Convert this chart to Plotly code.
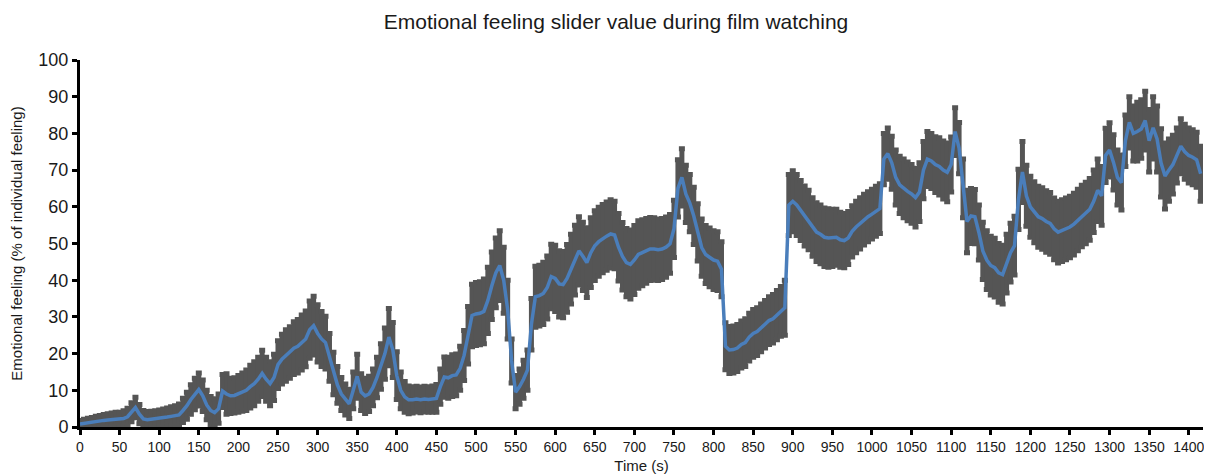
import plotly.graph_objects as go

# Time (s), sampled every 5 s
time_s = list(range(0, 1420, 5))

# Mean emotional feeling (% of individual feeling)
mean_feeling = [
    0.8, 1.0, 1.2, 1.3, 1.5, 1.6, 1.8, 1.9, 2.0, 2.1,
    2.0, 2.3, 2.8, 4.0, 5.3, 3.5, 2.2, 2.0, 2.1, 2.2,
    2.3, 2.5, 2.7, 2.9, 3.0, 3.3, 4.5, 5.8, 7.5, 9.0,
    10.2, 8.5, 6.0, 4.5, 3.9, 5.0, 9.8, 9.0, 8.5, 8.6,
    9.0, 9.5, 10.0, 11.0, 11.8, 13.0, 14.6, 13.0, 11.8, 13.5,
    17.0, 18.5, 19.5, 20.3, 21.5, 22.0, 23.0, 24.0, 26.5, 27.6,
    25.5, 24.0, 23.0, 19.0, 14.6, 11.5, 9.0, 7.5, 6.3, 10.0,
    13.8, 9.5, 8.5, 9.0, 10.8, 13.5, 16.5, 20.0, 24.5, 21.0,
    14.0, 10.0, 8.2, 7.4, 7.4, 7.6, 7.4, 7.6, 7.5, 7.6,
    7.8, 11.0, 13.6, 13.4, 14.0, 14.2, 16.0, 19.5, 25.0, 30.4,
    30.8, 31.0, 31.5, 34.5, 38.5, 42.0, 44.0, 40.0, 32.0, 18.0,
    9.5, 11.0, 13.0, 15.5, 28.0, 35.5, 35.8, 36.4, 38.0, 41.0,
    40.5, 39.0, 38.8, 40.5, 43.0, 45.5, 48.0, 46.5, 44.8, 47.5,
    49.4, 50.5, 51.3, 52.0, 52.6, 52.3, 49.0, 46.5, 44.8, 44.3,
    45.5, 47.0, 47.5, 48.0, 48.5, 48.5, 48.3, 48.5, 49.0, 49.9,
    54.0, 65.0, 68.0, 63.5, 61.0, 57.5, 53.0, 48.9, 47.0, 46.2,
    45.5, 45.2, 43.0, 22.0, 21.0, 21.1, 21.5, 22.5, 23.0, 24.5,
    25.5, 26.0, 27.0, 28.0, 29.0, 29.5, 30.5, 31.5, 32.5, 60.5,
    61.5, 60.5, 59.0, 57.5, 56.4, 54.5, 53.1, 52.5, 51.7, 51.5,
    51.5, 51.7, 51.0, 50.8, 51.5, 53.3, 54.5, 55.5, 56.5, 57.3,
    58.0, 58.8, 59.5, 73.0, 74.5, 72.0, 68.0, 66.0, 65.0, 64.2,
    63.5, 62.5, 64.0, 70.0, 73.0, 72.5, 71.5, 71.0, 70.0, 69.4,
    71.5, 80.5, 76.0, 65.0, 56.0, 57.5, 57.3, 53.0, 48.0, 45.5,
    44.0, 43.4, 42.0, 41.5, 44.5, 47.5, 49.4, 62.0, 69.5, 63.0,
    60.0, 58.5, 57.3, 56.8, 56.0, 55.5, 54.0, 53.1, 53.5, 54.0,
    54.5, 55.3, 56.4, 57.5, 58.3, 59.3, 61.5, 64.5, 63.0, 74.0,
    75.5, 72.1, 68.0, 66.6, 78.0, 83.0, 80.0, 80.5, 81.2, 83.5,
    78.0, 81.5, 78.5, 72.0, 68.4, 70.0, 71.5, 74.0, 76.5, 75.0,
    74.0, 73.5, 72.8, 69.0,
]

# Error bar half-width (same units)
error_feeling = [
    1.0, 1.1, 1.2, 1.3, 1.4, 1.5, 1.6, 1.7, 1.8, 1.9,
    2.0, 2.1, 2.3, 2.6, 2.8, 2.6, 2.3, 2.2, 2.2, 2.2,
    2.3, 2.4, 2.5, 2.6, 2.8, 3.0, 3.3, 3.7, 4.0, 4.3,
    4.5, 4.3, 4.0, 3.8, 3.8, 4.0, 4.5, 5.5, 4.8, 4.8,
    5.0, 5.2, 5.5, 5.8, 6.0, 6.0, 6.3, 6.0, 6.0, 6.3,
    6.5, 6.8, 7.0, 7.0, 7.2, 7.3, 7.5, 7.6, 7.8, 8.0,
    7.8, 7.5, 7.2, 6.5, 5.8, 5.0, 4.5, 4.2, 4.0, 5.0,
    6.0, 5.0, 4.8, 4.8, 5.0, 5.5, 6.2, 7.0, 7.8, 7.5,
    6.5, 5.0, 4.2, 3.8, 3.6, 3.5, 3.5, 3.5, 3.5, 3.6,
    3.8, 4.8, 5.5, 5.6, 5.7, 5.7, 6.0, 6.8, 7.8, 8.5,
    8.6, 8.6, 8.8, 9.0, 9.2, 9.5, 9.5, 9.0, 8.0, 6.0,
    4.5, 4.8, 5.2, 5.5, 7.0, 8.3, 8.3, 8.5, 8.6, 8.8,
    9.0, 9.0, 9.0, 9.2, 9.5, 9.5, 9.3, 9.3, 9.5, 9.5,
    9.5, 9.4, 9.3, 9.3, 9.3, 9.2, 9.2, 9.2, 9.3, 9.4,
    9.4, 9.2, 9.0, 8.8, 8.6, 8.5, 8.4, 8.3, 8.2, 8.0,
    7.8, 7.8, 7.8, 7.8, 7.8, 7.8, 7.8, 7.8, 7.9, 8.0,
    8.0, 8.0, 7.5, 6.4, 6.4, 6.4, 6.4, 6.4, 6.5, 6.5,
    6.5, 6.5, 6.5, 6.5, 6.5, 6.6, 6.7, 6.8, 7.5, 8.3,
    8.3, 8.3, 8.2, 8.2, 8.1, 8.0, 8.0, 8.0, 8.0, 8.0,
    7.8, 7.6, 7.5, 7.4, 7.2, 7.0, 7.0, 7.0, 6.9, 6.8,
    6.8, 6.8, 6.8, 7.0, 7.0, 7.2, 7.5, 7.8, 8.0, 8.0,
    8.0, 8.0, 8.0, 7.8, 7.5, 7.5, 7.6, 7.8, 7.9, 8.0,
    7.5, 6.5, 7.0, 8.0, 8.5, 7.5, 7.4, 7.5, 7.8, 8.0,
    8.0, 8.0, 8.0, 8.0, 8.0, 8.0, 8.0, 8.2, 8.3, 8.3,
    8.3, 8.3, 8.3, 8.4, 8.4, 8.4, 8.4, 8.4, 8.4, 8.4,
    8.4, 8.4, 8.4, 8.4, 8.4, 8.4, 8.5, 8.5, 8.0, 7.4,
    7.4, 7.5, 7.5, 7.5, 7.0, 7.0, 7.5, 8.0, 8.0, 8.0,
    8.5, 8.5, 9.0, 9.3, 9.0, 8.5, 8.0, 7.5, 7.5, 7.5,
    7.5, 7.5, 7.5, 7.5,
]

x_ticks = list(range(0, 1401, 50))
y_ticks = list(range(0, 101, 10))

FONT = "Liberation Sans, Arial, sans-serif"
TXT = "#1a1a1a"

fig = go.Figure()
fig.add_trace(go.Scatter(
    x=time_s, y=mean_feeling, mode="lines",
    line=dict(width=0, color="rgba(0,0,0,0)"),
    error_y=dict(type="data", array=error_feeling, visible=True,
                 color="#555555", thickness=5, width=3),
    showlegend=False, hoverinfo="skip",
))
fig.add_trace(go.Scatter(
    x=time_s, y=mean_feeling, mode="lines",
    line=dict(width=3.5, color="#4a7ebb"),
    showlegend=False,
))

# The page body adds an 8 px offset, so the figure is 8 px smaller than the window
fig.update_layout(
    width=1204, height=466,
    margin=dict(l=72, r=9, t=52, b=47, autoexpand=False),
    paper_bgcolor="white", plot_bgcolor="white",
    font=dict(family=FONT, color=TXT),
    title=dict(text="Emotional feeling slider value during film watching",
               x=0.505, xanchor="center", y=1 - 14 / 466, yanchor="middle",
               yref="container", font=dict(size=21, color=TXT)),
)
fig.update_xaxes(
    range=[0, 1418], tickvals=x_ticks, ticktext=[str(v) for v in x_ticks],
    showline=True, linecolor="black", linewidth=3,
    ticks="outside", ticklen=5, tickwidth=3, tickcolor="black",
    showgrid=False, zeroline=False, automargin=False,
    tickfont=dict(size=14, color=TXT),
    title=dict(text="Time (s)", font=dict(size=15, color=TXT), standoff=11),
)
fig.update_yaxes(
    range=[0, 100], tickvals=y_ticks, ticktext=[str(v) for v in y_ticks],
    showline=True, linecolor="black", linewidth=3,
    ticks="outside", ticklen=5, tickwidth=3, tickcolor="black",
    showgrid=False, zeroline=False, automargin=False,
    tickfont=dict(size=18, color=TXT),
    title=dict(text="Emotional feeling (% of individual feeling)",
               font=dict(size=15, color=TXT), standoff=13),
)

fig.write_html("out.html")
